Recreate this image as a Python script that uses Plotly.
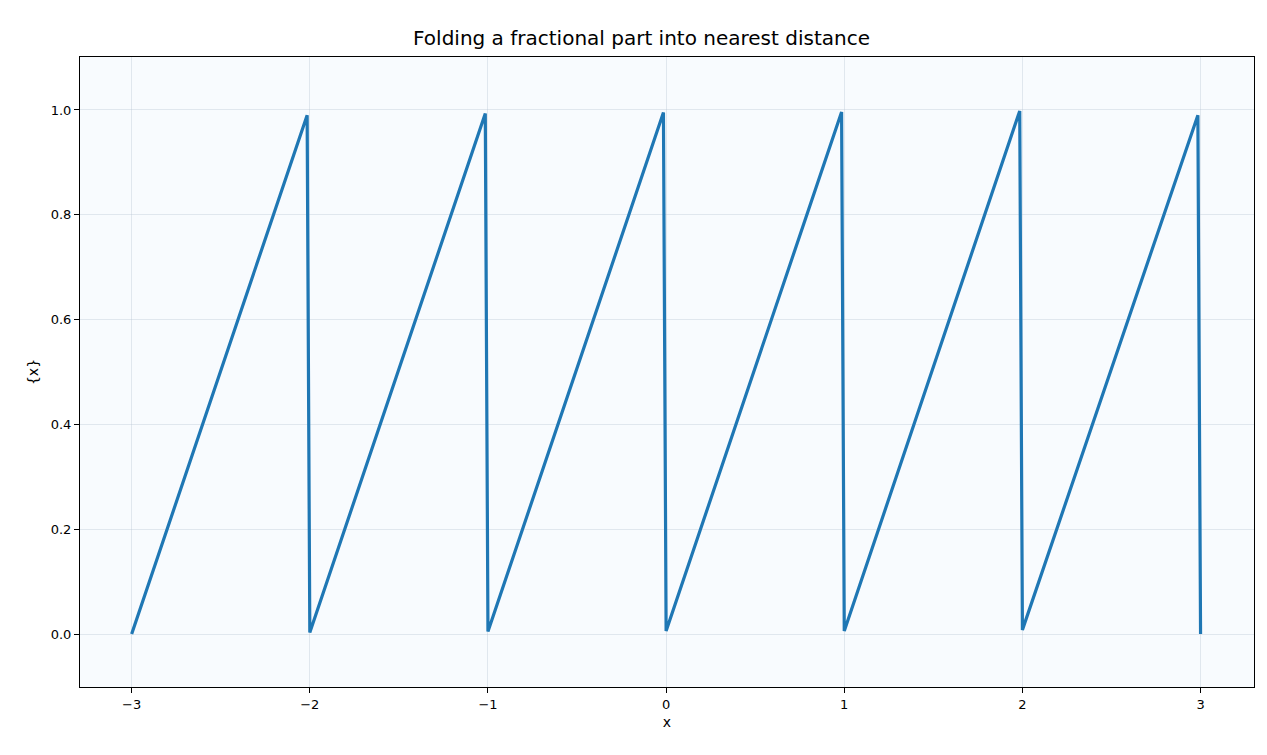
import plotly.graph_objects as go

x_vals = [-3.0, -2.015, -2.0, -1.015, -1.0, -0.015, 0.0, 0.985, 1.0, 1.985, 2.0, 2.985, 3.0]
y_vals = [0.0, 0.99, 0.003, 0.993, 0.005, 0.995, 0.006, 0.996, 0.006, 0.998, 0.008, 0.99, 0.0]
x_ticks = [-3, -2, -1, 0, 1, 2, 3]
x_tick_text = ["\u22123", "\u22122", "\u22121", "0", "1", "2", "3"]
y_ticks = [0.0, 0.2, 0.4, 0.6, 0.8, 1.0]

fig = go.Figure(go.Scatter(x=x_vals, y=y_vals, mode="lines",
                           line=dict(color="#1f77b4", width=3.2)))
axis_common = dict(showgrid=True, gridcolor="rgba(180,195,210,0.35)", zeroline=False,
                   showline=True, mirror=True, linecolor="black", linewidth=1,
                   ticks="outside", ticklen=5, tickcolor="black",
                   tickfont=dict(size=13, color="black"))
fig.update_layout(
    width=1267, height=755,
    margin=dict(l=72, r=21, t=49, b=76),
    paper_bgcolor="white", plot_bgcolor="#f8fbfe",
    font=dict(family="DejaVu Sans", color="black"),
    title=dict(text="Folding a fractional part into nearest distance", x=0.5, xanchor="center",
               y=0.97, font=dict(size=20)),
    showlegend=False,
    xaxis=dict(range=[-3.29, 3.3], tickvals=x_ticks, ticktext=x_tick_text,
               title=dict(text="x", font=dict(size=14), standoff=6), **axis_common),
    yaxis=dict(range=[-0.101, 1.101], tickvals=y_ticks, tickformat=".1f",
               title=dict(text="{x}", font=dict(size=14), standoff=8), **axis_common),
)
fig.write_html("out.html")
